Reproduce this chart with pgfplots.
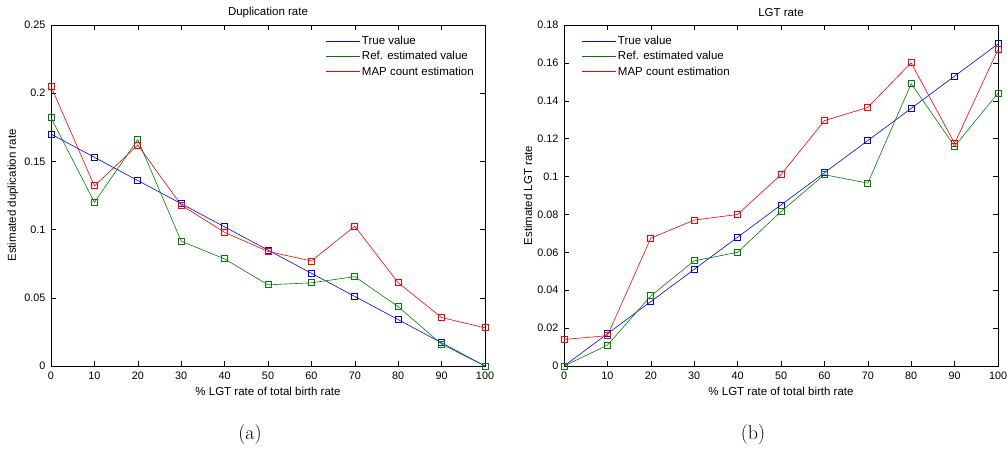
\documentclass[border=0pt]{standalone}
\usepackage{fontspec}
\usepackage{pgfplots}
\pgfplotsset{compat=1.18}
\newfontfamily\arial{Liberation Sans}
\definecolor{mgreen}{rgb}{0,0.5,0}
\definecolor{mblue}{rgb}{0,0,1}
\definecolor{mred}{rgb}{1,0,0}

\pgfplotsset{
 myax/.style={
  scale only axis, width=434pt, height=341pt,
  xmin=0, xmax=100, xtick={0,10,...,100},
  tick align=inside, major tick length=5pt,
  axis line style={line width=0.9pt},
  every tick/.style={black, line width=0.5pt},
  font=\arial\fontsize{11.5}{13.8}\selectfont,
  tick label style={font=\arial\fontsize{10.8}{13}\selectfont},
  /pgf/number format/assume math mode=true,
  scaled y ticks=false,
  yticklabel style={/pgf/number format/fixed, /pgf/number format/precision=2, xshift=-2pt},
  xticklabel style={yshift=-2pt},
  xlabel style={at={(axis description cs:0.5,0)}, anchor=north, yshift=-18pt},
  legend style={draw=none, fill=none, row sep=1.5pt,
    font=\arial\fontsize{11.5}{13.8}\selectfont},
  legend cell align=left,
  legend image post style={mark=none, xscale=2},
  every axis plot/.append style={line width=0.6pt, mark=square, mark size=3pt, mark options={line width=0.9pt}},
 }
}

\begin{document}
\begin{tikzpicture}
\useasboundingbox (0,0) rectangle (1007pt,450pt);

\begin{axis}[myax, at={(51pt,84pt)}, anchor=south west,
  ymin=0, ymax=0.25, ytick={0,0.05,0.1,0.15,0.2,0.25},
  xlabel={\% LGT rate of total birth rate},
  ylabel={Estimated duplication rate},
  ylabel style={at={(axis description cs:-0.0876,0.5)}, anchor=center},
  legend style={at={(axis description cs:1,1)}, anchor=north east, xshift=-6pt, yshift=-7pt},
]
\addplot[color=mblue] coordinates {(0,0.170) (10,0.153) (20,0.136) (30,0.119) (40,0.102) (50,0.085) (60,0.068) (70,0.051) (80,0.034) (90,0.017) (100,0)};
\addlegendentry{True value}
\addplot[color=mgreen] coordinates {(0,0.182) (10,0.120) (20,0.166) (30,0.0915) (40,0.0785) (50,0.0595) (60,0.061) (70,0.0655) (80,0.0435) (90,0.016) (100,0)};
\addlegendentry{Ref. estimated value}
\addplot[color=mred] coordinates {(0,0.205) (10,0.132) (20,0.162) (30,0.118) (40,0.098) (50,0.084) (60,0.077) (70,0.1025) (80,0.061) (90,0.0355) (100,0.028)};
\addlegendentry{MAP count estimation}
\end{axis}

\begin{axis}[myax, at={(564pt,84pt)}, anchor=south west,
  ymin=0, ymax=0.18, ytick={0,0.02,0.04,0.06,0.08,0.1,0.12,0.14,0.16,0.18},
  xlabel={\% LGT rate of total birth rate},
  ylabel={Estimated LGT rate},
  ylabel style={at={(axis description cs:-0.083,0.5)}, anchor=center},
  legend style={at={(axis description cs:0,1)}, anchor=north west, xshift=14pt, yshift=-7pt},
]
\addplot[color=mblue] coordinates {(0,0) (10,0.017) (20,0.034) (30,0.051) (40,0.068) (50,0.085) (60,0.102) (70,0.119) (80,0.136) (90,0.153) (100,0.170)};
\addlegendentry{True value}
\addplot[color=mgreen] coordinates {(0,0) (10,0.011) (20,0.037) (30,0.0555) (40,0.060) (50,0.0815) (60,0.101) (70,0.0965) (80,0.149) (90,0.116) (100,0.144)};
\addlegendentry{Ref. estimated value}
\addplot[color=mred] coordinates {(0,0.014) (10,0.016) (20,0.0675) (30,0.077) (40,0.080) (50,0.101) (60,0.1295) (70,0.1365) (80,0.160) (90,0.1175) (100,0.167)};
\addlegendentry{MAP count estimation}
\end{axis}

\node[font=\arial\fontsize{11.5}{13.8}\selectfont] at (268pt,437pt) {Duplication rate};
\node[font=\arial\fontsize{11.5}{13.8}\selectfont] at (781pt,437pt) {LGT rate};
\node[font=\fontsize{20}{24}\selectfont] at (250pt,15.5pt) {(a)};
\node[font=\fontsize{20}{24}\selectfont] at (753pt,15.5pt) {(b)};
\end{tikzpicture}
\end{document}
